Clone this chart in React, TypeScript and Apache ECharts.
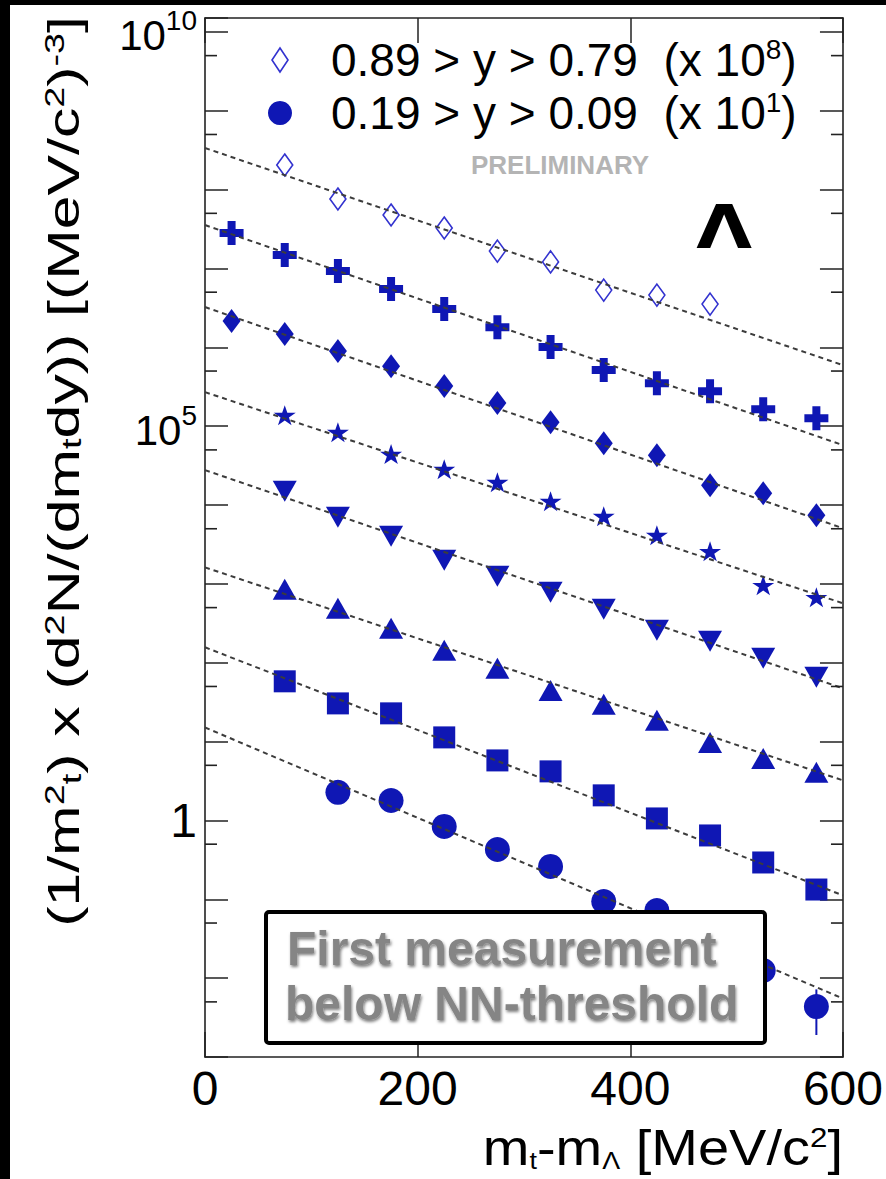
import React, { useEffect, useRef } from 'react';
import * as echarts from 'echarts';

// transverse-mass bins (MeV/c^2)
const mtBins = [25, 75, 125, 175, 225, 275, 325, 375, 425, 475, 525, 575];

// rapidity bins and scale exponents, top to bottom
const rapidityBins = [
  '0.89 > y > 0.79', '0.79 > y > 0.69', '0.69 > y > 0.59', '0.59 > y > 0.49',
  '0.49 > y > 0.39', '0.39 > y > 0.29', '0.29 > y > 0.19', '0.19 > y > 0.09',
];
const scaleExps = [8, 7, 6, 5, 4, 3, 2, 1];

// spectra values (already multiplied by the scale factors)
const yieldBin1 = [null, 2.05e8, 7.6e7, 4.76e7, 3.26e7, 1.66e7, 1.21e7, 5.32e6, 4.59e6, 3.53e6, null, null];
const yieldBin2 = [2.81e7, 1.48e7, 9.27e6, 5.48e6, 3.05e6, 1.8e6, 1.01e6, 5.14e5, 3.51e5, 2.78e5, 1.64e5, 1.26e5];
const yieldBin3 = [2.15e6, 1.47e6, 8.95e5, 5.77e5, 3.22e5, 1.96e5, 1.12e5, 6.08e4, 4.29e4, 1.78e4, 1.41e4, 7.43e3];
const yieldBin4 = [null, 1.38e5, 8.39e4, 4.42e4, 2.85e4, 1.95e4, 1.12e4, 7.21e3, 4.14e3, 2.59e3, 960, 676];
const yieldBin5 = [null, 1.5e4, 7.0e3, 4.02e3, 1.99e3, 1.25e3, 782, 476, 258, 187, 114, 65.3];
const yieldBin6 = [null, 854, 490, 273, 144, 84.9, 44.6, 29.7, 18.6, 9.77, 6.12, 4.07];
const yieldBin7 = [null, 58.1, 30.5, 22.8, 11.3, 5.77, 4.19, 2.08, 1.06, 0.645, 0.293, 0.133];
const yieldBin8 = [null, null, 2.27, 1.79, 0.839, 0.428, 0.261, 0.0938, 0.0721, 0.0328, 0.0125, 0.00436];

// error bar of the last point of the lowest rapidity bin
const lastErrLow = 0.0019;
const lastErrHigh = 0.0072;

// exponential fits: value at mt-m = 0 and at 600
const fitRange = [0, 600];
const fitAt0 = [3.37e8, 3.55e7, 3.24e6, 2.7e5, 2.77e4, 1620, 157, 15.1];
const fitAt600 = [5.94e5, 5.74e4, 5.08e3, 567, 47.3, 3.22, 0.112, 0.00551];

// axis ticks
const xTicks = [0, 200, 400, 600];
const yLabelExps = [0, 5, 10];
const yMinorTicks = [0.005, 0.05, 0.5, 5, 50, 500, 5e3, 5e4, 5e5, 5e6, 5e7, 5e8, 5e9];

const FONT = '"Liberation Sans", Arial, Helvetica, sans-serif';
const BLUE = '#0f17b4';
const BLUE_OPEN = '#3232cf';
const AXIS = '#222';

const symbols = [
  'diamond',
  'path://M1,0H2V1H3V2H2V3H1V2H0V1H1Z',
  'diamond',
  'path://M50,0L61.2,34.5L97.6,34.5L68.2,55.9L79.4,90.5L50,69.1L20.6,90.5L31.8,55.9L2.4,34.5L38.8,34.5Z',
  'triangle',
  'triangle',
  'rect',
  'circle',
];
const symbolSizes: any[] = [[16, 22], 24, [18, 24], [22, 20], [24, 21], [24, 21], 22, 25];
const symbolRotates = [0, 0, 0, 0, 180, 0, 0, 0];

function seriesName(i: number) {
  return rapidityBins[i] + '  (x 10^' + scaleExps[i] + ')';
}

export default function App() {
  const ref = useRef<HTMLDivElement>(null);

  useEffect(() => {
    if (!ref.current) return;
    const chart = echarts.init(ref.current, undefined, { renderer: 'svg' });
    const yields = [yieldBin1, yieldBin2, yieldBin3, yieldBin4, yieldBin5, yieldBin6, yieldBin7, yieldBin8];

    const series: any[] = [];
    yields.forEach((arr, i) => {
      const data: any[] = [];
      arr.forEach((v, j) => {
        if (v != null) data.push([mtBins[j], v]);
      });
      series.push({
        type: 'scatter',
        name: seriesName(i),
        data,
        symbol: symbols[i],
        symbolSize: symbolSizes[i],
        symbolRotate: symbolRotates[i],
        itemStyle: i === 0
          ? { color: '#ffffff', borderColor: BLUE_OPEN, borderWidth: 1.6, opacity: 1 }
          : { color: BLUE, opacity: 1 },
        z: 3,
        silent: true,
      });
      series.push({
        type: 'line',
        name: 'fit ' + (i + 1),
        data: [[fitRange[0], fitAt0[i]], [fitRange[1], fitAt600[i]]],
        symbol: 'none',
        lineStyle: { color: '#3c3c3c', width: 2, type: [5, 4] },
        z: 4,
        silent: true,
      });
    });
    series.push({
      type: 'line',
      name: 'error',
      data: [[mtBins[11], lastErrLow], [mtBins[11], lastErrHigh]],
      symbol: 'none',
      lineStyle: { color: BLUE, width: 2 },
      z: 2,
      silent: true,
    });
    series.push({
      type: 'scatter',
      name: 'minor left',
      data: yMinorTicks.map((v) => [xTicks[0], v]),
      symbol: 'rect',
      symbolSize: [12, 1.6],
      symbolOffset: [6, 0],
      itemStyle: { color: AXIS, opacity: 1 },
      clip: false,
      silent: true,
      z: 5,
    });
    series.push({
      type: 'scatter',
      name: 'minor right',
      data: yMinorTicks.map((v) => [xTicks[3], v]),
      symbol: 'rect',
      symbolSize: [12, 1.6],
      symbolOffset: [-6, 0],
      itemStyle: { color: AXIS, opacity: 1 },
      clip: false,
      silent: true,
      z: 5,
    });

    const yFormatter = (v: number) => {
      const l = Math.log10(v);
      const e = Math.round(l);
      if (Math.abs(l - e) > 1e-6 || yLabelExps.indexOf(e) < 0) return '';
      if (e === 0) return '{one|1}';
      return '{b|10}{s|' + e + '}';
    };

    const baseX = {
      type: 'value',
      min: xTicks[0],
      max: xTicks[3],
      interval: 200,
      splitLine: { show: false },
      axisLine: { show: true, onZero: false, lineStyle: { color: AXIS, width: 1.6 } },
      axisTick: { inside: true, length: 25, lineStyle: { color: AXIS, width: 1.5 } },
    };
    const baseY = {
      type: 'log',
      logBase: 10,
      min: 0.001,
      max: 1.5e10,
      interval: 1,
      splitLine: { show: false },
      axisLine: { show: true, onZero: false, lineStyle: { color: AXIS, width: 1.6 } },
      axisTick: { inside: true, length: 23, lineStyle: { color: AXIS, width: 1.5 } },
    };

    const names = [seriesName(0), seriesName(7)];

    chart.setOption({
      animation: false,
      backgroundColor: '#ffffff',
      grid: { left: 195, right: 43, top: 13, bottom: 122, containLabel: false },
      xAxis: [
        {
          ...baseX,
          position: 'bottom',
          axisLabel: { fontFamily: FONT, fontSize: 48, color: '#000', margin: 7 },
        },
        { ...baseX, position: 'top', axisLabel: { show: false } },
      ],
      yAxis: [
        {
          ...baseY,
          position: 'left',
          axisLabel: {
            formatter: yFormatter,
            margin: 8,
            color: '#000',
            showMinLabel: true,
            showMaxLabel: true,
            rich: {
              one: { fontFamily: FONT, fontSize: 48, color: '#000' },
              b: { fontFamily: FONT, fontSize: 42, color: '#000', verticalAlign: 'bottom', lineHeight: 50 },
              s: { fontFamily: FONT, fontSize: 28, color: '#000', verticalAlign: 'top', lineHeight: 26 },
            },
          },
        },
        { ...baseY, position: 'right', axisLabel: { show: false } },
      ],
      legend: {
        data: [
          {
            name: names[0],
            icon: 'path://M8,0L16,12L8,24L0,12Z',
            itemStyle: { color: '#ffffff', borderColor: BLUE_OPEN, borderWidth: 1.6 },
          },
          { name: names[1], icon: 'circle', itemStyle: { color: BLUE } },
        ],
        orient: 'vertical',
        left: 258,
        top: 30,
        padding: 0,
        itemWidth: 92,
        itemHeight: 24,
        itemGap: 3,
        selectedMode: false,
        formatter: (n: string) => n.replace(/10\^(\d+)\)/, '10{sup|$1})'),
        textStyle: {
          fontFamily: FONT,
          fontSize: 46,
          lineHeight: 50,
          color: '#000',
          rich: {
            sup: { fontFamily: FONT, fontSize: 28, lineHeight: 20, verticalAlign: 'top', color: '#000' },
          },
        },
      },
      graphic: [
        {
          type: 'text',
          x: 53,
          y: 11,
          rotation: Math.PI / 2,
          scaleX: 1.35,
          z: 10,
          style: {
            text: '(1/m{sup|2}{sub|t}) x (d{sup|2}N/(dm{sub|t}dy)) [(MeV/c{sup|2}){sup|-3}]',
            fontFamily: FONT,
            fontSize: 45,
            fill: '#000',
            align: 'right',
            verticalAlign: 'middle',
            rich: {
              sup: { fontFamily: FONT, fontSize: 28, lineHeight: 24, verticalAlign: 'top', fill: '#000' },
              sub: { fontFamily: FONT, fontSize: 28, lineHeight: 24, verticalAlign: 'bottom', fill: '#000' },
            },
          },
        },
        {
          type: 'text',
          x: 833,
          y: 1143,
          scaleX: 1.12,
          z: 10,
          style: {
            text: 'm{sub|t}-m{sub|Λ} [MeV/c{sup|2}]',
            fontFamily: FONT,
            fontSize: 50,
            fill: '#000',
            align: 'right',
            verticalAlign: 'middle',
            rich: {
              sup: { fontFamily: FONT, fontSize: 28, lineHeight: 24, verticalAlign: 'top', fill: '#000' },
              sub: { fontFamily: FONT, fontSize: 24, lineHeight: 22, verticalAlign: 'bottom', fill: '#000' },
            },
          },
        },
        {
          type: 'text',
          x: 550,
          y: 160,
          z: 10,
          style: {
            text: 'PRELIMINARY',
            fontFamily: FONT,
            fontWeight: 'bold',
            fontSize: 26,
            fill: '#b4b4b4',
            align: 'center',
            verticalAlign: 'middle',
          },
        },
        {
          type: 'text',
          x: 714,
          y: 222,
          scaleX: 1.2,
          z: 10,
          style: {
            text: 'Λ',
            fontFamily: '"DejaVu Sans", sans-serif',
            fontWeight: 'bold',
            fontSize: 60,
            fill: '#000',
            align: 'center',
            verticalAlign: 'middle',
          },
        },
        {
          type: 'rect',
          z: 100,
          shape: { x: 256, y: 907, width: 499, height: 131, r: 3 },
          style: { fill: '#ffffff', stroke: '#000', lineWidth: 4 },
        },
        {
          type: 'text',
          x: 277,
          y: 943,
          z: 101,
          style: {
            text: 'First measurement',
            fontFamily: FONT,
            fontWeight: 'bold',
            fontSize: 48,
            fill: '#858585',
            align: 'left',
            verticalAlign: 'middle',
            textShadowColor: 'rgba(0,0,0,0.5)',
            textShadowBlur: 3,
            textShadowOffsetX: 1,
            textShadowOffsetY: 2,
          },
        },
        {
          type: 'text',
          x: 275,
          y: 998,
          z: 101,
          style: {
            text: 'below NN-threshold',
            fontFamily: FONT,
            fontWeight: 'bold',
            fontSize: 48,
            fill: '#858585',
            align: 'left',
            verticalAlign: 'middle',
            textShadowColor: 'rgba(0,0,0,0.5)',
            textShadowBlur: 3,
            textShadowOffsetX: 1,
            textShadowOffsetY: 2,
          },
        },
      ],
      series,
    });

    return () => chart.dispose();
  }, []);

  return (
    <div style={{ position: 'absolute', left: 0, top: 0, width: 886, height: 1179, background: '#000', overflow: 'hidden' }}>
      <div
        ref={ref}
        style={{ position: 'absolute', left: 10, top: 5, width: 876, height: 1174, background: '#fff' }}
      />
    </div>
  );
}
